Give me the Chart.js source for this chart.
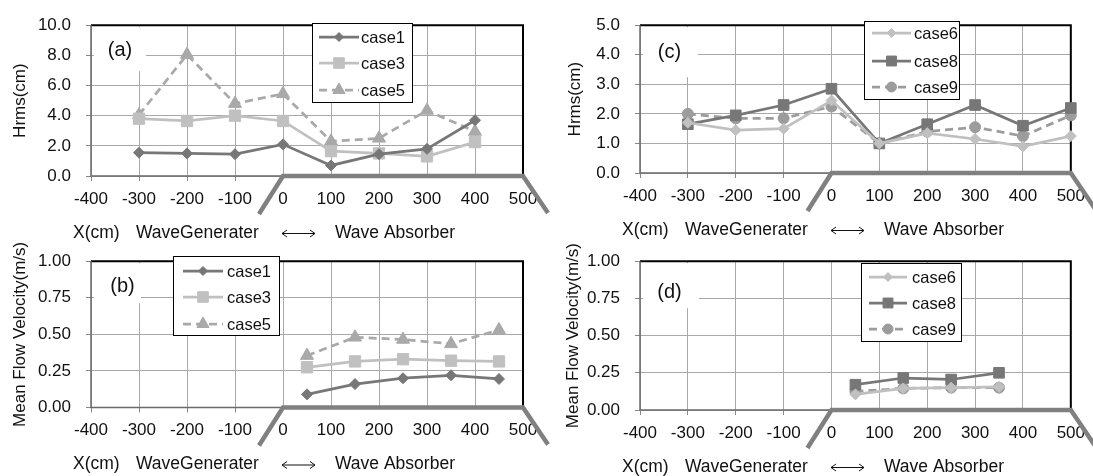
<!DOCTYPE html>
<html>
<head>
<meta charset="utf-8">
<script src="https://cdn.jsdelivr.net/npm/chart.js@4.4.1/dist/chart.umd.min.js"></script>
<style>
  body { margin: 0; background: #fff; width: 1093px; height: 476px; overflow: hidden; }
  .grafica { position: absolute; }
</style>
</head>
<body>
<div class="grafica" style="left:0;top:0;width:560px;height:250px"><canvas id="graficaA"></canvas></div>
<div class="grafica" style="left:540px;top:0;width:553px;height:250px"><canvas id="graficaC"></canvas></div>
<div class="grafica" style="left:0;top:236px;width:560px;height:240px"><canvas id="graficaB"></canvas></div>
<div class="grafica" style="left:540px;top:236px;width:553px;height:240px"><canvas id="graficaD"></canvas></div>
<script>
// datos (a) Hrms
const posA = [-300, -200, -100, 0, 100, 200, 300, 400];
const hrmsCase1 = [1.55, 1.5, 1.45, 2.1, 0.7, 1.45, 1.8, 3.7];
const hrmsCase3 = [3.8, 3.65, 4.0, 3.65, 1.65, 1.5, 1.3, 2.25];
const hrmsCase5 = [4.05, 8.05, 4.8, 5.45, 2.3, 2.5, 4.35, 2.95];

// datos (c) Hrms
const posC = [-300, -200, -100, 0, 100, 200, 300, 400, 500];
const hrmsCase6 = [1.7, 1.45, 1.5, 2.45, 1.0, 1.35, 1.15, 0.9, 1.25];
const hrmsCase8 = [1.65, 1.95, 2.3, 2.85, 1.0, 1.65, 2.3, 1.6, 2.2];
const hrmsCase9 = [2.0, 1.85, 1.85, 2.25, 1.0, 1.4, 1.55, 1.25, 1.95];

// datos (b) velocidad
const posB = [50, 150, 250, 350, 450];
const velCase1 = [0.09, 0.16, 0.2, 0.22, 0.195];
const velCase3 = [0.275, 0.315, 0.33, 0.32, 0.315];
const velCase5 = [0.355, 0.48, 0.465, 0.435, 0.53];

// datos (d) velocidad
const posD = [50, 150, 250, 350];
const velCase6 = [0.105, 0.145, 0.15, 0.155];
const velCase8 = [0.17, 0.215, 0.205, 0.25];
const velCase9 = [0.125, 0.145, 0.15, 0.15];

const FUENTE = '"Liberation Sans", Arial, sans-serif';
Chart.defaults.font.family = FUENTE;
Chart.defaults.color = '#111';

const oscuro = '#777777';
const claro = '#c0c0c0';
const medio = '#a9a9a9';
const gris9 = '#9c9c9c';

const estilos = {
  diamanteOscuro: { color: oscuro, pointStyle: 'rectRot', pointRadius: 5.5, borderDash: [] },
  diamanteClaro: { color: claro, pointStyle: 'rectRot', pointRadius: 5.5, borderDash: [] },
  cuadradoClaro: { color: claro, pointStyle: 'rect', pointRadius: 8, borderDash: [] },
  cuadradoOscuro: { color: oscuro, pointStyle: 'rect', pointRadius: 7.5, borderDash: [] },
  trianguloDash: { color: medio, pointStyle: 'triangle', pointRadius: 7.5, borderDash: [8, 5] },
  circuloDash: { color: gris9, pointStyle: 'circle', pointRadius: 5.5, borderDash: [8, 5] }
};

function serie(label, xs, ys, e) {
  return {
    label: label,
    data: xs.map((x, i) => ({ x: x, y: ys[i] })),
    borderColor: e.color,
    backgroundColor: e.color,
    pointBackgroundColor: e.color,
    pointBorderColor: e.color,
    pointBorderWidth: 1,
    pointStyle: e.pointStyle,
    pointRadius: e.pointRadius,
    borderDash: e.borderDash,
    borderWidth: 2.75,
    tension: 0,
    fill: false,
    clip: false
  };
}

const decoracion = {
  id: 'decoracion',
  beforeDatasetsDraw(chart, args, opts) {
    const { ctx, chartArea: a, scales: { x } } = chart;
    const x0 = x.getPixelForValue(0);
    const x500 = x.getPixelForValue(500);
    ctx.save();
    // caja blanca de la etiqueta
    ctx.fillStyle = '#fff';
    ctx.fillRect(a.left + 3, a.top + 2, opts.cajaW, opts.cajaH);
    ctx.fillStyle = '#111';
    ctx.font = '20px ' + FUENTE;
    ctx.textAlign = 'center';
    ctx.textBaseline = 'middle';
    ctx.fillText(opts.etiqueta, a.left + opts.etqX, a.top + opts.etqY);

    // marco
    ctx.strokeStyle = '#000';
    ctx.lineWidth = 2;
    ctx.beginPath();
    ctx.moveTo(a.left, a.top);
    ctx.lineTo(a.right, a.top);
    ctx.lineTo(a.right, a.bottom);
    ctx.stroke();
    ctx.strokeStyle = '#6a6a6a';
    ctx.lineWidth = 1.5;
    ctx.beginPath();
    ctx.moveTo(a.left, a.top);
    ctx.lineTo(a.left, a.bottom);
    ctx.lineTo(x0, a.bottom);
    ctx.stroke();

    // tanque
    ctx.strokeStyle = '#808080';
    ctx.lineWidth = 4.5;
    ctx.lineJoin = 'miter';
    ctx.beginPath();
    ctx.moveTo(x0 - 24, a.bottom + 38);
    ctx.lineTo(x0, a.bottom);
    ctx.lineTo(x500, a.bottom);
    ctx.lineTo(x500 + 25, a.bottom + 37);
    ctx.stroke();

    // texto inferior
    const ty = a.bottom + 57;
    ctx.fillStyle = '#111';
    ctx.font = '17.5px ' + FUENTE;
    ctx.textAlign = 'left';
    ctx.fillText('X(cm)', a.left - 18, ty);
    ctx.fillText('WaveGenerater', a.left + 45, ty);
    ctx.fillText('Wave Absorber', a.left + 244, ty);
    // flecha ←→
    const f1 = a.left + 191, f2 = a.left + 224;
    ctx.strokeStyle = '#111';
    ctx.lineWidth = 1;
    ctx.beginPath();
    ctx.moveTo(f1, ty + 0.5);
    ctx.lineTo(f2, ty + 0.5);
    ctx.moveTo(f1 + 5, ty - 3);
    ctx.lineTo(f1, ty + 0.5);
    ctx.lineTo(f1 + 5, ty + 4);
    ctx.moveTo(f2 - 5, ty - 3);
    ctx.lineTo(f2, ty + 0.5);
    ctx.lineTo(f2 - 5, ty + 4);
    ctx.stroke();
    ctx.restore();
  },
  afterDatasetsDraw(chart, args, opts) {
    const { ctx } = chart;
    const lg = opts.leyenda;
    ctx.save();
    ctx.fillStyle = '#fff';
    ctx.fillRect(lg.x, lg.y, lg.w, lg.h);
    ctx.strokeStyle = '#000';
    ctx.lineWidth = 1;
    ctx.strokeRect(lg.x + 0.5, lg.y + 0.5, lg.w, lg.h);
    chart.data.datasets.forEach((ds, i) => {
      const yy = lg.y + lg.filas[i];
      const m1 = lg.x + lg.m1, m2 = lg.x + lg.m2;
      ctx.strokeStyle = ds.borderColor;
      ctx.lineWidth = ds.borderWidth;
      ctx.setLineDash(ds.borderDash);
      ctx.beginPath();
      ctx.moveTo(m1, yy);
      ctx.lineTo(m2, yy);
      ctx.stroke();
      ctx.setLineDash([]);
      ctx.fillStyle = ds.backgroundColor;
      ctx.lineWidth = 1;
      Chart.helpers.drawPoint(ctx, {
        pointStyle: ds.pointStyle,
        radius: ds.pointStyle === 'rectRot' ? 4.5 : ds.pointRadius - 0.5,
        rotation: 0,
        borderWidth: 1
      }, (m1 + m2) / 2, yy);
      ctx.fillStyle = '#111';
      ctx.font = '16.5px ' + FUENTE;
      ctx.textAlign = 'left';
      ctx.textBaseline = 'middle';
      ctx.fillText(ds.label, lg.x + lg.tx, yy + 1);
    });
    ctx.restore();
  }
};

function crearGrafica(id, cfg) {
  const colorGrid = '#a8a8a8';
  return new Chart(document.getElementById(id), {
    type: 'line',
    data: { datasets: cfg.series },
    plugins: [decoracion],
    options: {
      responsive: true,
      maintainAspectRatio: false,
      animation: false,
      layout: { padding: { left: 0, right: cfg.padDer, top: cfg.padSup, bottom: 0 } },
      plugins: {
        legend: { display: false },
        tooltip: { enabled: false },
        decoracion: cfg.deco
      },
      scales: {
        x: {
          type: 'linear',
          min: -400,
          max: 500,
          border: { display: false },
          grid: {
            color: colorGrid,
            lineWidth: 1,
            tickLength: 5,
            tickColor: (c) => (c.tick && c.tick.value < 0 ? '#888' : 'rgba(0,0,0,0)')
          },
          ticks: {
            stepSize: 100,
            autoSkip: false,
            maxRotation: 0,
            padding: 8,
            font: { size: 17 },
            color: '#111'
          },
          afterFit: (s) => { s.height = cfg.altoX; }
        },
        y: {
          min: 0,
          max: cfg.yMax,
          border: { display: false },
          grid: { color: colorGrid, lineWidth: 1, tickLength: 5, tickColor: '#888' },
          ticks: {
            stepSize: cfg.yPaso,
            padding: 15,
            font: { size: 17 },
            color: '#111',
            callback: (v) => v.toFixed(cfg.decimales)
          },
          title: {
            display: true,
            text: cfg.tituloY,
            font: { size: 17 },
            color: '#111',
            padding: { top: cfg.tituloPad, bottom: 0 }
          },
          afterFit: (s) => { s.width = cfg.anchoY; }
        }
      }
    }
  });
}

crearGrafica('graficaA', {
  series: [
    serie('case1', posA, hrmsCase1, estilos.diamanteOscuro),
    serie('case3', posA, hrmsCase3, estilos.cuadradoClaro),
    serie('case5', posA, hrmsCase5, estilos.trianguloDash)
  ],
  yMax: 10, yPaso: 2, decimales: 1, tituloY: 'Hrms(cm)', tituloPad: 10,
  anchoY: 91, altoX: 74, padDer: 37, padSup: 17,
  deco: {
    etiqueta: '(a)', etqX: 29, etqY: 25.5, cajaW: 52, cajaH: 44,
    leyenda: { x: 312, y: 23, w: 100, h: 79, filas: [14, 40, 67], m1: 7, m2: 47, tx: 49 }
  }
});

crearGrafica('graficaC', {
  series: [
    serie('case6', posC, hrmsCase6, estilos.diamanteClaro),
    serie('case8', posC, hrmsCase8, estilos.cuadradoOscuro),
    serie('case9', posC, hrmsCase9, estilos.circuloDash)
  ],
  yMax: 5, yPaso: 1, decimales: 1, tituloY: 'Hrms(cm)', tituloPad: 25,
  anchoY: 100, altoX: 77, padDer: 22, padSup: 16,
  deco: {
    etiqueta: '(c)', etqX: 29.5, etqY: 27, cajaW: 55, cajaH: 50,
    leyenda: { x: 324, y: 21, w: 95, h: 78, filas: [12, 40, 66], m1: 8, m2: 47, tx: 50 }
  }
});

crearGrafica('graficaB', {
  series: [
    serie('case1', posB, velCase1, estilos.diamanteOscuro),
    serie('case3', posB, velCase3, estilos.cuadradoClaro),
    serie('case5', posB, velCase5, estilos.trianguloDash)
  ],
  yMax: 1, yPaso: 0.25, decimales: 2, tituloY: 'Mean Flow Velocity(m/s)', tituloPad: 10,
  anchoY: 91, altoX: 68.5, padDer: 37, padSup: 13,
  deco: {
    etiqueta: '(b)', etqX: 31.5, etqY: 25, cajaW: 47, cajaH: 40,
    leyenda: { x: 173, y: 20, w: 106, h: 79, filas: [15, 41, 68], m1: 10, m2: 50, tx: 54 }
  }
});

crearGrafica('graficaD', {
  series: [
    serie('case6', posD, velCase6, estilos.diamanteClaro),
    serie('case8', posD, velCase8, estilos.cuadradoOscuro),
    serie('case9', posD, velCase9, estilos.circuloDash)
  ],
  yMax: 1, yPaso: 0.25, decimales: 2, tituloY: 'Mean Flow Velocity(m/s)', tituloPad: 23,
  anchoY: 100, altoX: 66, padDer: 22, padSup: 20,
  deco: {
    etiqueta: '(d)', etqX: 29.5, etqY: 31, cajaW: 56, cajaH: 45,
    leyenda: { x: 321, y: 27, w: 100, h: 78, filas: [14, 40, 66], m1: 8, m2: 46, tx: 51 }
  }
});
</script>
</body>
</html>
